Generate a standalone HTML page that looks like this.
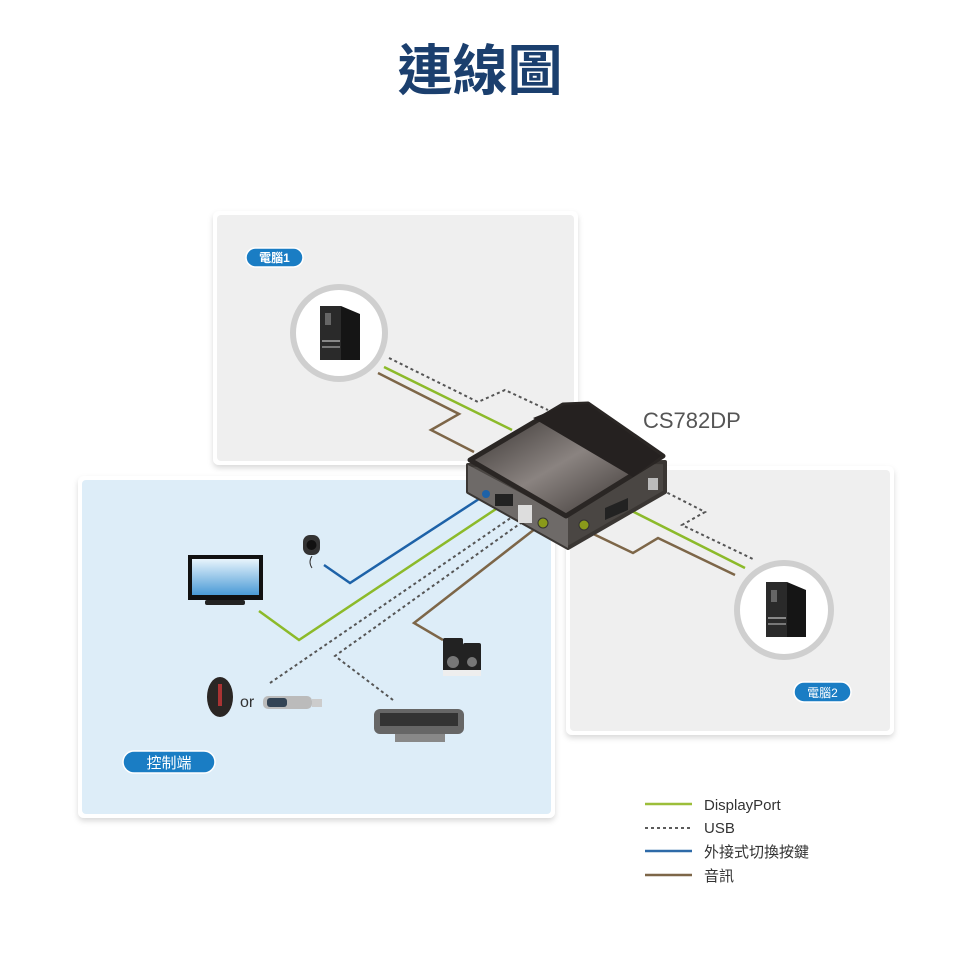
<!DOCTYPE html>
<html><head><meta charset="utf-8"><style>
html,body{margin:0;padding:0;background:#fff;}
svg{display:block;}
text{font-family:"Liberation Sans","Noto Sans CJK TC",sans-serif;}
</style></head><body>
<svg width="960" height="966" viewBox="0 0 960 966" xmlns="http://www.w3.org/2000/svg">
<defs>
<filter id="sh" x="-5%" y="-5%" width="110%" height="115%"><feDropShadow dx="0" dy="3" stdDeviation="3" flood-color="#000" flood-opacity="0.15"/></filter>
<linearGradient id="top" x1="0" y1="0" x2="1" y2="1"><stop offset="0" stop-color="#2a2624"/><stop offset="0.5" stop-color="#8a8380"/><stop offset="1" stop-color="#2c2725"/></linearGradient>
<linearGradient id="scr" x1="0" y1="0" x2="0" y2="1"><stop offset="0" stop-color="#e8f4fc"/><stop offset="1" stop-color="#4a9ad6"/></linearGradient>
</defs>
<text x="480" y="90" text-anchor="middle" font-size="55" font-weight="bold" fill="#1b3f6e">連線圖</text>

<rect x="213" y="211" width="365" height="254" rx="6" fill="#fff" filter="url(#sh)"/>
<rect x="217" y="215" width="357" height="246" rx="4" fill="#efefef"/>
<rect x="78" y="476" width="477" height="342" rx="6" fill="#fff" filter="url(#sh)"/>
<rect x="82" y="480" width="469" height="334" rx="4" fill="#ddedf8"/>
<rect x="566" y="466" width="328" height="269" rx="6" fill="#fff" filter="url(#sh)"/>
<rect x="570" y="470" width="320" height="261" rx="4" fill="#efefef"/>

<rect x="246" y="248" width="57" height="19" rx="9.5" fill="#1a7dc4" stroke="#fff" stroke-width="1.5"/>
<text x="274.5" y="262" text-anchor="middle" font-size="12" fill="#fff" font-weight="bold">電腦1</text>
<rect x="123" y="751" width="92" height="22" rx="11" fill="#1a7dc4" stroke="#fff" stroke-width="1.5"/>
<text x="169" y="768" text-anchor="middle" font-size="15" fill="#fff">控制端</text>
<rect x="794" y="682" width="57" height="20" rx="10" fill="#1a7dc4" stroke="#fff" stroke-width="1.5"/>
<text x="822.5" y="697" text-anchor="middle" font-size="12" fill="#fff">電腦2</text>

<circle cx="339" cy="333" r="46" fill="#fff" stroke="#cfcfcf" stroke-width="6"/>
<circle cx="784" cy="610" r="47" fill="#fff" stroke="#cfcfcf" stroke-width="6"/>
<g>
<rect x="320" y="306" width="21" height="54" fill="#2a2a2a"/><polygon points="341,306 360,314 360,360 341,360" fill="#151515"/>
<rect x="325" y="313" width="6" height="12" fill="#666"/><rect x="322" y="340" width="18" height="2" fill="#888"/><rect x="322" y="346" width="18" height="2" fill="#777"/>
</g>
<g>
<rect x="766" y="582" width="21" height="55" fill="#2a2a2a"/><polygon points="787,582 806,590 806,637 787,637" fill="#151515"/>
<rect x="771" y="590" width="6" height="12" fill="#666"/><rect x="768" y="617" width="18" height="2" fill="#888"/><rect x="768" y="623" width="18" height="2" fill="#777"/>
</g>

<g fill="none" stroke-width="2.5">
<polyline points="389,358 478,402 505,390 548,410" stroke="#555" stroke-dasharray="3,3" stroke-width="2"/>
<polyline points="384,367 512,430" stroke="#8cba2a"/>
<polyline points="378,373 459,414 431,430 474,452" stroke="#7d6648"/>
<polyline points="324,565 350,583 482,497" stroke="#1d62a8"/>
<polyline points="259,611 299,640 505,503" stroke="#8cba2a"/>
<polyline points="270,683 515,515" stroke="#555" stroke-dasharray="3,3" stroke-width="2"/>
<polyline points="393,700 335,656 525,520" stroke="#555" stroke-dasharray="3,3" stroke-width="2"/>
<polyline points="443,640 414,623 540,525" stroke="#7d6648"/>
<polyline points="662,490 705,512 682,525 755,560" stroke="#555" stroke-dasharray="3,3" stroke-width="2"/>
<polyline points="620,505 745,568" stroke="#8cba2a"/>
<polyline points="585,530 633,553 658,538 735,575" stroke="#7d6648"/>
</g>

<g stroke-linejoin="round">
<polygon points="468,465 468,492 568,548 665,492 665,462" fill="#4a4643" stroke="#3a3633" stroke-width="4"/>
<polygon points="468,465 468,492 568,548 568,518" fill="#6e6a68"/>
<polygon points="470,460 563,405 588,404 663,456 566,516" fill="url(#top)" stroke="#2a2624" stroke-width="5"/>
<polygon points="533,418 565,405 588,404 661,456 633,477" fill="#252120"/>
<circle cx="486" cy="494" r="4" fill="#1d62a8"/>
<rect x="495" y="494" width="18" height="12" fill="#222"/>
<rect x="518" y="505" width="14" height="18" fill="#ddd"/>
<circle cx="543" cy="523" r="5" fill="#8a9a1a" stroke="#333"/>
<circle cx="584" cy="525" r="5" fill="#8a9a1a" stroke="#333"/>
<polygon points="605,508 628,498 628,510 605,520" fill="#222"/>
<rect x="648" y="478" width="10" height="12" fill="#bbb"/>
</g>
<text x="643" y="428" font-size="22" fill="#555">CS782DP</text>

<rect x="188" y="555" width="75" height="45" fill="#111"/>
<rect x="192" y="559" width="67" height="36" fill="url(#scr)"/>
<rect x="205" y="600" width="40" height="5" rx="2" fill="#222"/>
<rect x="303" y="535" width="17" height="20" rx="7" fill="#333"/><circle cx="311.5" cy="545" r="5" fill="#111"/>
<path d="M312 556 q-4 6 0 12" stroke="#333" fill="none"/>
<rect x="443" y="638" width="20" height="38" rx="2" fill="#222"/><circle cx="453" cy="662" r="6" fill="#777"/><rect x="443" y="670" width="20" height="6" fill="#eee"/>
<rect x="463" y="643" width="18" height="33" rx="2" fill="#222"/><circle cx="472" cy="662" r="5" fill="#777"/><rect x="463" y="670" width="18" height="6" fill="#eee"/>
<rect x="374" y="709" width="90" height="25" rx="6" fill="#666"/><rect x="380" y="713" width="78" height="13" fill="#333"/><rect x="395" y="734" width="50" height="8" fill="#888"/>
<ellipse cx="220" cy="697" rx="13" ry="20" fill="#2a2624"/><rect x="218" y="684" width="4" height="22" fill="#a33"/>
<text x="240" y="707" font-size="16" fill="#333">or</text>
<rect x="263" y="696" width="49" height="13" rx="5" fill="#bbb"/><rect x="267" y="698" width="20" height="9" rx="3" fill="#345"/><rect x="312" y="699" width="10" height="8" fill="#ccc"/>

<g stroke-width="2.5" fill="none">
<line x1="645" y1="804" x2="692" y2="804" stroke="#9cbe3a"/>
<line x1="645" y1="828" x2="692" y2="828" stroke="#444" stroke-dasharray="3,3" stroke-width="1.8"/>
<line x1="645" y1="851" x2="692" y2="851" stroke="#2e6aa8"/>
<line x1="645" y1="875" x2="692" y2="875" stroke="#7d6648"/>
</g>
<g font-size="15" fill="#333">
<text x="704" y="810">DisplayPort</text>
<text x="704" y="833">USB</text>
<text x="704" y="857">外接式切換按鍵</text>
<text x="704" y="881">音訊</text>
</g>
</svg>
</body></html>
